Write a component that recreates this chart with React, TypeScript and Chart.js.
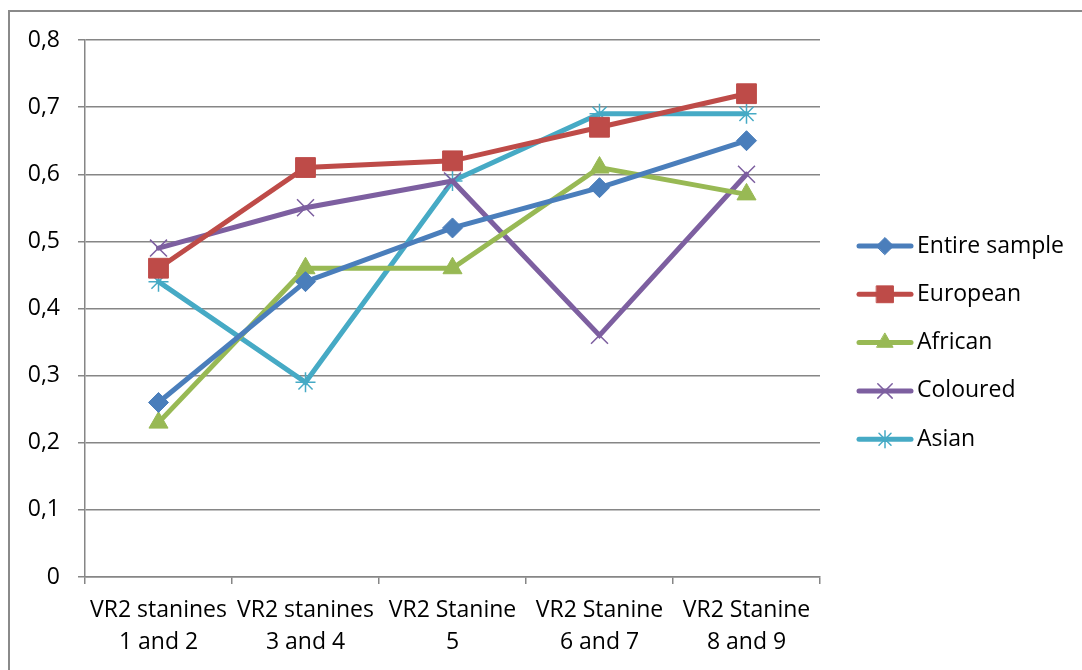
import React, { useEffect, useRef } from "react";
import { Chart, registerables } from "chart.js";
import { drawPoint } from "chart.js/helpers";

Chart.register(...registerables);

const categories: string[][] = [
  ["VR2 stanines", "1 and 2"],
  ["VR2 stanines", "3 and 4"],
  ["VR2 Stanine", "5"],
  ["VR2 Stanine", "6 and 7"],
  ["VR2 Stanine", "8 and 9"],
];

const entireSample = [0.26, 0.44, 0.52, 0.58, 0.65];
const european = [0.46, 0.61, 0.62, 0.67, 0.72];
const african = [0.23, 0.46, 0.46, 0.61, 0.57];
const coloured = [0.49, 0.55, 0.59, 0.36, 0.6];
const asian = [0.44, 0.29, 0.59, 0.69, 0.69];

const seriesNames = ["Entire sample", "European", "African", "Coloured", "Asian"];
const yTicks = [0, 0.1, 0.2, 0.3, 0.4, 0.5, 0.6, 0.7, 0.8];

const FONT = "'Open Sans', sans-serif";
const FONT_SIZE = 23;

const styles = [
  { color: "#4A7EBB", point: "rectRot", radius: 10, bw: 1 },
  { color: "#BE4B48", point: "rect", radius: 14, bw: 1 },
  { color: "#98B954", point: "triangle", radius: 11, bw: 1 },
  { color: "#7D5FA0", point: "crossRot", radius: 12, bw: 1.5 },
  { color: "#46AAC5", point: "star", radius: 10, bw: 1.5 },
];

const frameAndLegend = {
  id: "frameAndLegend",
  beforeDraw(chart: any) {
    const ctx = chart.ctx;
    ctx.save();
    ctx.fillStyle = "#ffffff";
    ctx.fillRect(0, 0, chart.width, chart.height);
    ctx.strokeStyle = "#8a8a8a";
    ctx.lineWidth = 2;
    ctx.strokeRect(9, 11, 3000, 3000);
    ctx.restore();
  },
  afterDraw(chart: any) {
    const ctx = chart.ctx;
    ctx.save();
    const x0 = 859;
    const x1 = 911;
    const yStart = 246;
    const step = 48.3;
    chart.data.datasets.forEach((ds: any, i: number) => {
      const y = yStart + i * step;
      const st = styles[i];
      ctx.strokeStyle = st.color;
      ctx.lineWidth = 5;
      ctx.lineCap = "round";
      ctx.beginPath();
      ctx.moveTo(x0, y);
      ctx.lineTo(x1, y);
      ctx.stroke();
      ctx.fillStyle = st.color;
      ctx.strokeStyle = st.color;
      ctx.lineWidth = st.bw;
      drawPoint(ctx, { pointStyle: st.point, radius: st.radius * 0.85, rotation: 0, borderWidth: st.bw } as any, (x0 + x1) / 2, y);
      ctx.fillStyle = "#000000";
      ctx.font = `${FONT_SIZE}px ${FONT}`;
      ctx.textAlign = "left";
      ctx.textBaseline = "middle";
      ctx.fillText(ds.label, 917, y);
    });
    ctx.restore();
  },
};

export default function App() {
  const ref = useRef<HTMLCanvasElement>(null);
  useEffect(() => {
    document.body.style.margin = "0";
    const datasets = [entireSample, european, african, coloured, asian].map((d, i) => ({
      label: seriesNames[i],
      data: d,
      borderColor: styles[i].color,
      backgroundColor: styles[i].color,
      borderWidth: 5,
      pointStyle: styles[i].point as any,
      pointRadius: styles[i].radius,
      pointBorderWidth: styles[i].bw,
      pointBackgroundColor: styles[i].color,
      pointBorderColor: styles[i].color,
      tension: 0,
      borderCapStyle: "round" as const,
    }));
    const chart = new Chart(ref.current!, {
      type: "line",
      data: { labels: categories as any, datasets },
      plugins: [frameAndLegend],
      options: {
        animation: false,
        responsive: false,
        devicePixelRatio: 1,
        layout: { padding: { left: 0, top: 40, right: 262, bottom: 0 } },
        plugins: { legend: { display: false }, tooltip: { enabled: false } },
        scales: {
          x: {
            type: "category",
            offset: true,
            grid: {
              offset: true,
              drawOnChartArea: false,
              drawTicks: true,
              tickLength: 7,
              color: "#868686",
              lineWidth: 1.5,
            },
            border: { color: "#868686", width: 1.5 },
            ticks: {
              color: "#000000",
              font: { family: FONT, size: FONT_SIZE, lineHeight: 1.39 },
              maxRotation: 0,
              minRotation: 0,
              autoSkip: false,
              padding: 10,
            },
            afterFit(scale: any) {
              scale.height = 93;
            },
          },
          y: {
            min: 0,
            max: 0.8,
            afterBuildTicks(scale: any) {
              scale.ticks = yTicks.map((v) => ({ value: v }));
            },
            grid: {
              color: "#868686",
              lineWidth: 1.5,
              drawTicks: true,
              tickLength: 7,
            },
            border: { color: "#868686", width: 1.5 },
            ticks: {
              color: "#000000",
              font: { family: FONT, size: FONT_SIZE },
              padding: 18,
              callback: (v: any) => (v === 0 ? "0" : Number(v).toFixed(1).replace(".", ",")),
            },
            afterFit(scale: any) {
              scale.width = 85;
            },
          },
        },
      },
    });
    return () => chart.destroy();
  }, []);
  return (
    <div style={{ position: "fixed", left: 0, top: 0, width: 1082, height: 670 }}>
      <canvas ref={ref} width={1082} height={670} style={{ width: 1082, height: 670, display: "block" }} />
    </div>
  );
}
